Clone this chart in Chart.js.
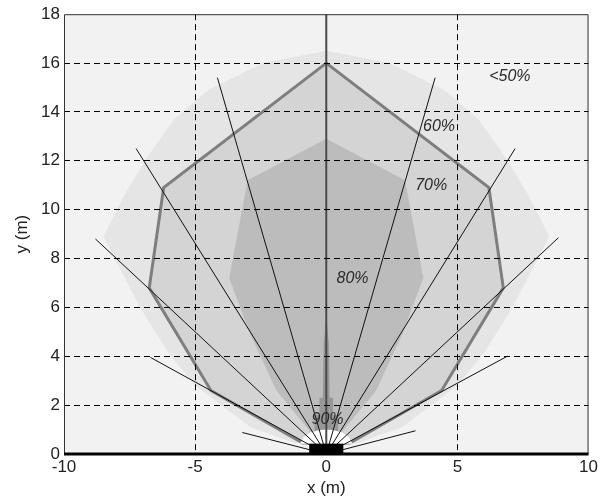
<!DOCTYPE html>
<html><head><meta charset="utf-8">
<script src="https://cdn.jsdelivr.net/npm/chart.js@4/dist/chart.umd.min.js"></script>
<style>html,body{margin:0;padding:0;background:#fff;overflow:hidden}</style>
</head><body>
<canvas id="c" width="601" height="499"></canvas>
<script>
// ---- data ----
const xTicks = [-10, -5, 0, 5, 10];
const yTicks = [0, 2, 4, 6, 8, 10, 12, 14, 16, 18];

// <50% zone boundary
const lightX = [0, 2.4, 4.5, 5.8, 6.8, 7.7, 8.5, 7.1, 6.0, 5.0, 2.9, 1.2, -1.2, -2.9, -5.0, -6.0, -7.1, -8.5, -7.7, -6.8, -5.8, -4.5, -2.4, 0];
const lightY = [16.5, 16.0, 14.9, 13.7, 12.2, 10.6, 8.9, 6.0, 4.1, 2.8, 1.1, 0.45, 0.45, 1.1, 2.8, 4.1, 6.0, 8.9, 10.6, 12.2, 13.7, 14.9, 16.0, 16.5];
// 60% zone (outlined)
const z60X = [0, 6.2, 6.75, 4.4, 0.9, -0.9, -4.4, -6.75, -6.2, 0];
const z60Y = [16, 10.9, 6.8, 2.6, 0.45, 0.45, 2.6, 6.8, 10.9, 16];
// 70% zone
const z70X = [0, 3.0, 3.7, 2.9, 1.9, 0.6, -0.6, -1.9, -2.9, -3.7, -3.0, 0];
const z70Y = [12.9, 11.2, 7.2, 4.9, 2.6, 0.9, 0.9, 2.6, 4.9, 7.2, 11.2, 12.9];
// 80% spike
const z80X = [0, 0.1, 0.13, 0.26, 0.26, 0.45, 0.45, -0.45, -0.45, -0.26, -0.26, -0.13, -0.1, 0];
const z80Y = [5.6, 4.5, 2.3, 2.3, 1.6, 1.6, 0.9, 0.9, 1.6, 1.6, 2.3, 2.3, 4.5, 5.6];
// 90% fan near sensor
const fanX = [-1.0, -0.85, -0.6, -0.3, 0, 0.3, 0.6, 0.85, 1.0, -1.0];
const fanY = [0.42, 0.7, 0.88, 0.97, 1.0, 0.97, 0.88, 0.7, 0.42, 0.42];
// sensor box
const boxX = [-0.65, 0.65, 0.65, -0.65, -0.65];
const boxY = [0, 0, 0.42, 0.42, 0];
// rays from the origin
const rayEndX = [3.4, 6.9, 8.85, 7.2, 4.15, 0, -4.15, -7.25, -8.8, -6.7, -3.2];
const rayEndY = [0.95, 4.0, 8.85, 12.5, 15.4, 18, 15.4, 12.5, 8.8, 3.95, 0.88];
// zone labels
const labelText = ['<50%', '60%', '70%', '80%', '90%'];
const labelX = [7.0, 4.3, 4.0, 1.0, 0.05];
const labelY = [15.45, 13.4, 11.0, 7.2, 1.4];

// ---- build datasets ----
const pts = (xs, ys) => xs.map((x, i) => ({x, y: ys[i]}));
const poly = (xs, ys, fillCol, border, bw) => ({
  data: pts(xs, ys), showLine: true, fill: 'shape', backgroundColor: fillCol,
  borderColor: border || 'rgba(0,0,0,0)', borderWidth: bw || 0, pointRadius: 0, tension: 0
});
const ds = [];
ds.push(poly(lightX, lightY, '#e5e5e5'));
ds.push(poly(z60X, z60Y, '#d4d4d4'));
ds.push(poly(z70X, z70Y, '#bcbcbc'));
ds.push(poly(z80X, z80Y, '#979797'));
ds.push(poly(z60X, z60Y, 'rgba(0,0,0,0)', '#7e7e7e', 3));
ds.push(poly(fanX, fanY, '#ffffff'));
rayEndX.forEach((ex, i) => {
  const vertical = ex === 0;
  ds.push({data: [{x: 0, y: 0}, {x: ex, y: rayEndY[i]}], showLine: true, fill: false,
    borderColor: vertical ? '#4a4a4a' : '#111', borderWidth: vertical ? 2 : 1, pointRadius: 0});
});
ds.push(poly(boxX, boxY, '#000000'));
ds.forEach((d, i) => { d.order = ds.length - i; });

const FONT = "'Liberation Sans', Arial, sans-serif";

const deco = {
  id: 'deco',
  beforeDraw(chart) {
    const {ctx, chartArea: a} = chart;
    ctx.save();
    ctx.fillStyle = '#ffffff';
    ctx.fillRect(0, 0, chart.width, chart.height);
    ctx.fillStyle = '#f2f2f2';
    ctx.fillRect(a.left, a.top, a.right - a.left, a.bottom - a.top);
    ctx.restore();
  },
  afterDraw(chart) {
    const {ctx, chartArea: a, scales} = chart;
    ctx.save();
    ctx.fillStyle = '#2a2a2a';
    ctx.font = "italic 16px " + FONT;
    ctx.textAlign = 'center';
    ctx.textBaseline = 'middle';
    labelText.forEach((t, i) => {
      ctx.fillText(t, scales.x.getPixelForValue(labelX[i]), scales.y.getPixelForValue(labelY[i]));
    });
    ctx.strokeStyle = '#333';
    ctx.lineWidth = 1;
    ctx.beginPath();
    ctx.moveTo(a.left + 0.5, a.bottom);
    ctx.lineTo(a.left + 0.5, a.top + 0.5);
    ctx.lineTo(a.right - 0.5, a.top + 0.5);
    ctx.lineTo(a.right - 0.5, a.bottom);
    ctx.stroke();
    ctx.strokeStyle = '#000';
    ctx.lineWidth = 3;
    ctx.beginPath();
    ctx.moveTo(a.left, a.bottom);
    ctx.lineTo(a.right, a.bottom);
    ctx.stroke();
    ctx.restore();
  }
};

const gridCol = (lim) => (c) => (c.tick && (c.tick.value === 0 && lim === 'x' || Math.abs(c.tick.value) === 10 && lim === 'x' || lim === 'y' && (c.tick.value === 0 || c.tick.value === 18))) ? 'rgba(0,0,0,0)' : '#000';

new Chart(document.getElementById('c'), {
  type: 'scatter',
  data: {datasets: ds},
  plugins: [deco],
  options: {
    responsive: false, animation: false, devicePixelRatio: 1,
    layout: {padding: {top: 13, right: 8, left: 0, bottom: 0}},
    plugins: {legend: {display: false}, tooltip: {enabled: false}},
    scales: {
      x: {
        type: 'linear', min: -10, max: 10,
        afterBuildTicks: (s) => { s.ticks = xTicks.map(v => ({value: v})); },
        afterFit: (s) => { s.height = 45; },
        ticks: {color: '#222', font: {family: FONT, size: 17}, padding: 3, maxRotation: 0},
        grid: {color: gridCol('x'), lineWidth: 1, drawTicks: false, z: 1},
        border: {display: false, dash: [6, 4]},
        title: {display: true, text: 'x (m)', color: '#222', font: {family: FONT, size: 17}, padding: {top: 0, bottom: 0}}
      },
      y: {
        type: 'linear', min: 0, max: 18,
        afterBuildTicks: (s) => { s.ticks = yTicks.map(v => ({value: v})); },
        afterFit: (s) => { s.width = 64; },
        ticks: {color: '#222', font: {family: FONT, size: 17}, padding: 4},
        grid: {color: gridCol('y'), lineWidth: 1, drawTicks: false, z: 1},
        border: {display: false, dash: [6, 4]},
        title: {display: true, text: 'y (m)', color: '#222', font: {family: FONT, size: 17}, padding: {top: 12, bottom: 0}}
      }
    }
  }
});
</script>
</body></html>
